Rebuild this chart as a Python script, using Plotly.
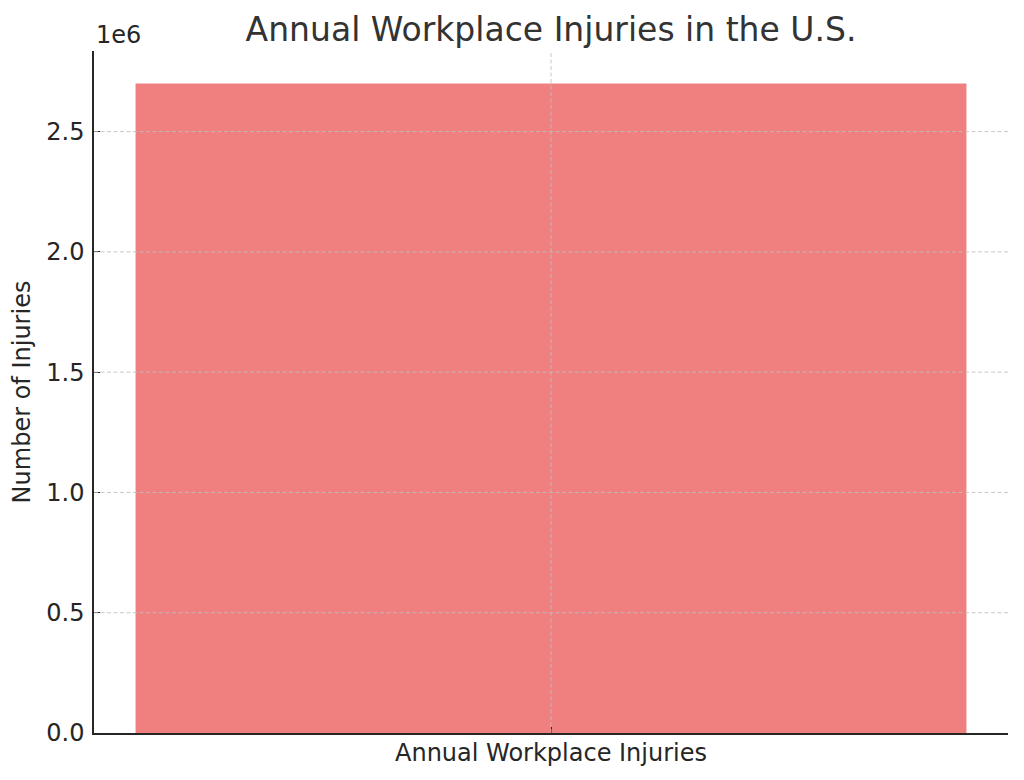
import plotly.graph_objects as go

# data
categories = ["Annual Workplace Injuries"]
injuries = [2700000]

y_ticks = [0, 500000, 1000000, 1500000, 2000000, 2500000]
y_tick_labels = ["0.0", "0.5", "1.0", "1.5", "2.0", "2.5"]

FONT = "DejaVu Sans"
GRID = "rgba(190,190,190,0.85)"

fig = go.Figure()
fig.add_trace(go.Bar(
    x=categories,
    y=injuries,
    width=0.8,
    marker=dict(color="#F08080", line=dict(width=0)),
))

# matplotlib draws the grid on top of the bar here, so do it with shapes
for v in y_ticks[1:]:
    fig.add_shape(type="line", xref="paper", yref="y", x0=0, x1=1, y0=v, y1=v,
                  line=dict(color=GRID, width=1, dash="4px,2.5px"), layer="above")
for c in categories:
    fig.add_shape(type="line", xref="x", yref="paper", x0=c, x1=c, y0=0, y1=1,
                  line=dict(color=GRID, width=1, dash="4px,2.5px"), layer="above")

# page body has an 8px margin, so offsets are taken relative to that
fig.update_layout(
    width=1024, height=780,
    margin=dict(l=86, r=24, t=43, b=55, autoexpand=False),
    paper_bgcolor="white", plot_bgcolor="white",
    showlegend=False,
    font=dict(family=FONT, size=24, color="#262626"),
    title=dict(text="Annual Workplace Injuries in the U.S.", x=543 / 1024,
               xanchor="center", y=1 - 21 / 780, yanchor="middle",
               font=dict(size=33, color="#333333")),
)
fig.update_xaxes(
    range=[-0.44, 0.44], showgrid=False, automargin=False,
    showline=True, linecolor="#262626", linewidth=1.5,
    ticks="inside", ticklen=6, tickwidth=1.2, tickcolor="#262626",
    tickfont=dict(size=24), zeroline=False, ticklabelstandoff=-3,
)
fig.update_yaxes(
    range=[0, 2835000], showgrid=False, automargin=False,
    tickvals=y_ticks, ticktext=y_tick_labels,
    showline=True, linecolor="#262626", linewidth=1.5,
    ticks="inside", ticklen=6, tickwidth=1.2, tickcolor="#262626",
    tickfont=dict(size=24), zeroline=False, ticklabelstandoff=3,
    title=dict(text="Number of Injuries", font=dict(size=24), standoff=14),
)
fig.add_annotation(text="1e6", xref="paper", yref="paper", x=0, y=1,
                   xanchor="left", yanchor="bottom", yshift=0, showarrow=False,
                   font=dict(size=24, color="#262626"))

fig.write_html("out.html")
